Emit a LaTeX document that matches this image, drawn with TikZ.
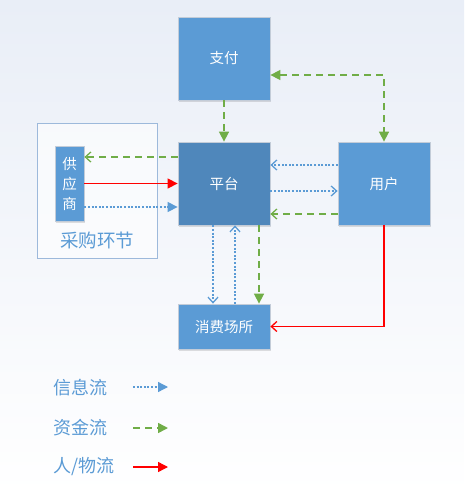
\documentclass[tikz,border=0pt]{standalone}
\usepackage{fontspec}
\setmainfont{Noto Sans CJK SC}
\usetikzlibrary{arrows.meta,shadows}

\definecolor{boxblue}{HTML}{5B9BD5}
\definecolor{hubblue}{HTML}{4F87BB}
\definecolor{flowgreen}{HTML}{70AD47}
\definecolor{edgegray}{HTML}{C3CCD8}
\definecolor{groupline}{HTML}{9DB9DB}
\definecolor{bgtop}{HTML}{E9EEF7}

\tikzset{
    block/.style={draw=edgegray, line width=.8pt, fill=boxblue, text=white,
        minimum width=92pt, minimum height=83pt, inner sep=0pt,
        font=\fontsize{14.5}{16}\selectfont,
        drop shadow={shadow xshift=1pt, shadow yshift=-2pt, fill=black, opacity=.12}},
    info/.style={draw=boxblue, line width=1.3pt, dash pattern=on 2pt off 1.6pt},
    money/.style={draw=flowgreen, line width=1.6pt, dash pattern=on 7pt off 5pt},
    goods/.style={draw=red, line width=1.4pt},
    open/.style={-{Straight Barb[length=5.5pt, width=10pt, line width=1.3pt]}},
    full/.style={-{Triangle[length=10pt, width=10pt]}},
    legend/.style={text=boxblue, font=\fontsize{18}{20}\selectfont, anchor=west}
}

\begin{document}
\begin{tikzpicture}[x=1pt, y=-1pt]
    \useasboundingbox (0,0) rectangle (464,495);
    % background
    \shade[top color=bgtop, bottom color=white] (0,0) rectangle (464,495);

    % procurement group
    \node[draw=groupline, line width=1pt, fill=white, fill opacity=.6,
        minimum width=120pt, minimum height=135pt, inner sep=0pt] (caigou) at (97,190.5) {};
    \node[text=boxblue, font=\fontsize{18.5}{20}\selectfont] (caigoulabel) at (97,240) {采购环节};

    % blocks
    \node[block] (zhifu) at (224,58.5) {支付};
    \node[block, fill=hubblue] (pingtai) at (224,183.5) {平台};
    \node[block] (yonghu) at (384,183.5) {用户};
    \node[block, minimum height=45pt] (xiaofei) at (224,326.5) {消费场所};
    \node[block, minimum width=29pt, minimum height=75pt, align=center,
        font=\fontsize{14.5}{20}\selectfont] (gongying) at (69.5,183.5) {供\\应\\商};

    % payment
    \draw[money, full] (zhifu.south) -- (pingtai.north);
    \draw[money, {Triangle[length=10pt, width=10pt]}-{Triangle[length=10pt, width=10pt]}]
        ([yshift=-16.5pt]zhifu.east) -| (yonghu.north);

    % supplier
    \draw[money, open] ([yshift=26.5pt]pingtai.west) -- ([yshift=26.5pt]pingtai.west -| gongying.east);
    \draw[goods, full] (gongying.east) -- (pingtai.west);
    \draw[info, full] ([yshift=-23.5pt]gongying.east) -- ([yshift=-23.5pt]gongying.east -| pingtai.west);

    % user
    \draw[info, open] ([yshift=18.5pt]yonghu.west) -- ([yshift=18.5pt]pingtai.east);
    \draw[info, open] ([yshift=-7.5pt]pingtai.east) -- ([yshift=-7.5pt]yonghu.west);
    \draw[money, open] ([yshift=-30.5pt]yonghu.west) -- ([yshift=-30.5pt]pingtai.east);
    \draw[goods, open] (yonghu.south) |- (xiaofei.east);

    % venue
    \draw[info, open] ([xshift=-11pt]pingtai.south) -- ([xshift=-11pt]xiaofei.north);
    \draw[info, open] ([xshift=11pt]xiaofei.north) -- ([xshift=11pt]pingtai.south);
    \draw[money, full] ([xshift=35pt]pingtai.south) -- ([xshift=35pt]xiaofei.north);

    % legend
    \node[legend] (lginfo) at (50,388) {信息流};
    \node[legend] (lgmoney) at (50,428) {资金流};
    \node[legend] (lggoods) at (50,467) {人/物流};
    \coordinate (lginfoa) at (133,387);
    \coordinate (lginfob) at (168,387);
    \coordinate (lgmoneya) at (133,428);
    \coordinate (lgmoneyb) at (168,428);
    \coordinate (lggoodsa) at (133,467);
    \coordinate (lggoodsb) at (168,467);
    \draw[info, full] (lginfoa) -- (lginfob);
    \draw[money, full] (lgmoneya) -- (lgmoneyb);
    \draw[goods, full] (lggoodsa) -- (lggoodsb);
\end{tikzpicture}
\end{document}
